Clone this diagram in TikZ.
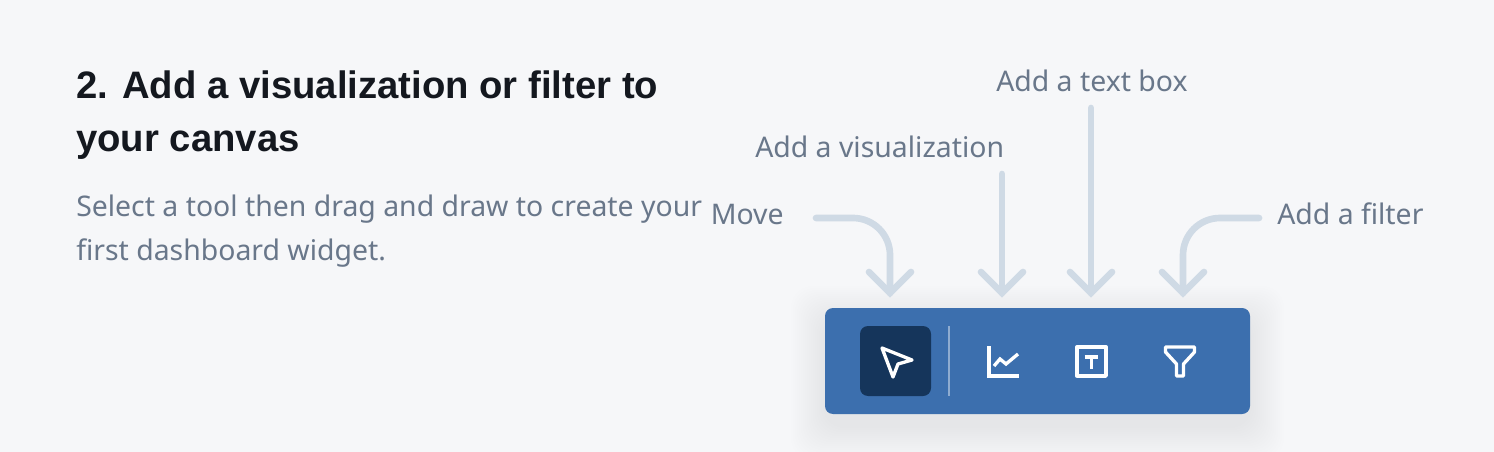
\documentclass[tikz,border=0pt]{standalone}
\usepackage{fontspec}
\newfontfamily\bodyfont{Noto Sans}
\newfontfamily\titlefont{Liberation Sans}
\definecolor{bgc}{HTML}{F6F7F9}
\definecolor{titlec}{HTML}{14181F}
\definecolor{bodyc}{HTML}{69778A}
\definecolor{arrowc}{HTML}{CFDAE5}
\definecolor{barc}{HTML}{3C6FAE}
\definecolor{darkc}{HTML}{15355B}
\definecolor{sepc}{HTML}{8FACD0}
\tikzset{
  x=0.75pt,y=-0.75pt,
  titletext/.style={anchor=base west,inner sep=0pt,text=titlec,font=\titlefont\bfseries\fontsize{28.7pt}{32pt}\selectfont},
  bodytext/.style={anchor=base west,inner sep=0pt,text=bodyc,font=\bodyfont\fontsize{21.3pt}{24pt}\selectfont},
  callout/.style={draw=arrowc,line width=5pt,line cap=round,line join=round},
  headline/.style={draw=arrowc,line width=5pt,line cap=round,line join=miter},
  iconline/.style={draw=white,line width=2.5pt,line join=round,line cap=round},
}
\begin{document}
\begin{tikzpicture}
\fill[bgc] (0,0) rectangle (1494,452);
\useasboundingbox (0,0) rectangle (1494,452);
% soft shadow
\foreach \d in {34,32,...,2}{
  \fill[black,opacity=0.0024,rounded corners=16pt] ({825-\d},{308-\d+12}) rectangle ({1250+\d},{414+\d+12});
}
% texts
\node[titletext] (t1) at (76,99) {2. Add a visualization or filter to};
\node[titletext] (t2) at (76,152) {your canvas};
\node[bodytext] (b1) at (76,217) {Select a tool then drag and draw to create your};
\node[bodytext] (b2) at (76,261) {first dashboard widget.};
\node[bodytext] (lmove) at (710.5,224) {Move};
\node[bodytext] (lviz) at (755,158) {Add a visualization};
\node[bodytext] (ltext) at (996,92) {Add a text box};
\node[bodytext] (lfilter) at (1277,224) {Add a filter};
% toolbar
\node[fill=barc,rounded corners=6pt,minimum width=318.75pt,minimum height=79.5pt,inner sep=0pt] (bar) at (1037.5,361) {};
\node[fill=darkc,rounded corners=6pt,minimum width=53.25pt,minimum height=52.5pt,inner sep=0pt] (tmove) at (895.5,361) {};
\coordinate (septop) at (949,326);
\coordinate (sepbot) at (949,396);
\draw[sepc,line width=1.5pt] (septop) -- (sepbot);
% targets
\coordinate (amove) at (890,293);
\coordinate (aviz) at (1002,293);
\coordinate (atext) at (1091,293);
\coordinate (afilter) at (1183,293);
% connectors
\coordinate (smove) at (816,218);
\coordinate (sviz) at (1002,174);
\coordinate (stext) at (1091,108);
\coordinate (sfilter) at (1259,218);
\draw[callout] (smove) -- (853,218) arc[start angle=90,end angle=0,x radius=27.75pt,y radius=27.75pt] -- (amove);
\draw[callout] (sviz) -- (aviz);
\draw[callout] (stext) -- (atext);
\draw[callout] (sfilter) -- (1220,218) arc[start angle=90,end angle=180,x radius=27.75pt,y radius=27.75pt] -- (afilter);
\foreach \n in {amove,aviz,atext,afilter}{
  \draw[headline] ([shift={(-21,-21)}]\n) -- (\n) -- ([shift={(21,-21)}]\n);
}
% cursor icon
\draw[iconline] (882,348) -- (912,360) -- (898,364) -- (893,377) -- cycle;
% chart icon
\draw[iconline,line cap=butt,line join=miter] (989,346) -- (989,376) -- (1019,376);
\draw[iconline,line cap=butt,line join=miter] (994,366) -- (1000,359) -- (1006,364) -- (1018,354);
% text icon
\draw[iconline] (1077,347) rectangle (1106,376);
\draw[draw=white,line width=2.6pt] (1084.5,357) -- (1098,357);
\draw[draw=white,line width=2.6pt] (1091.5,357) -- (1091.5,369);
% filter icon
\draw[iconline] (1165.5,347) -- (1194.5,347) -- (1194.5,352) -- (1183.5,364) -- (1183.5,376) -- (1176.5,376) -- (1176.5,364) -- (1165.5,352) -- cycle;
\end{tikzpicture}
\end{document}
